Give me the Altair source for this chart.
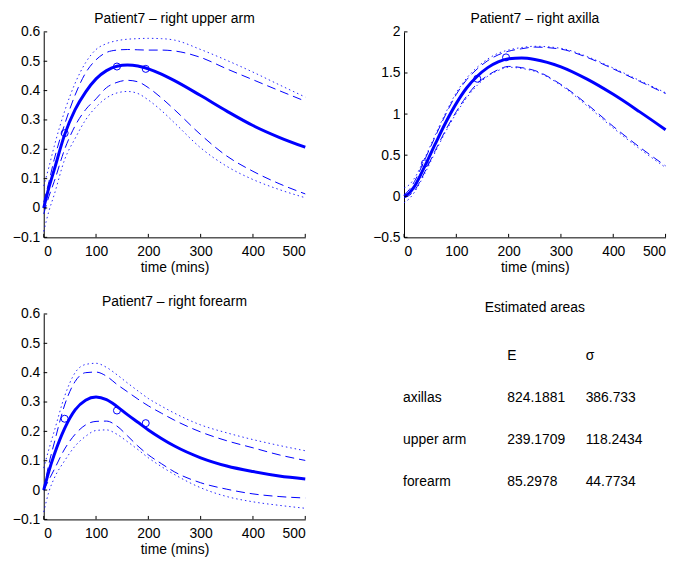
import altair as alt
import pandas as pd

BLUE = "#0000ff"
FONT = "Liberation Sans"
W, H = 263.5, 207

# common sampling times (mins)
T = [0, 10, 20, 40, 60, 80, 100, 120, 140, 160, 180, 200, 225, 250, 300, 350, 400, 450, 500]
x_ticks = [0, 100, 200, 300, 400, 500]

# ---- right upper arm ----
ua_title = "Patient7 \u2013 right upper arm"
ua_mean = [0, 0.07, 0.13, 0.25, 0.335, 0.395, 0.44, 0.468, 0.483, 0.487, 0.484, 0.474, 0.456, 0.434, 0.383, 0.33, 0.281, 0.241, 0.207]
ua_dash_hi = [0.02, 0.09, 0.165, 0.285, 0.385, 0.46, 0.505, 0.53, 0.538, 0.54, 0.539, 0.538, 0.538, 0.535, 0.513, 0.474, 0.437, 0.40, 0.364]
ua_dash_lo = [-0.02, 0.04, 0.09, 0.2, 0.28, 0.335, 0.372, 0.41, 0.428, 0.435, 0.43, 0.41, 0.375, 0.335, 0.25, 0.177, 0.125, 0.083, 0.048]
ua_dot_hi = [0.075, 0.14, 0.21, 0.33, 0.425, 0.495, 0.54, 0.56, 0.57, 0.575, 0.577, 0.578, 0.577, 0.572, 0.54, 0.503, 0.463, 0.42, 0.378]
ua_dot_lo = [-0.08, -0.01, 0.045, 0.165, 0.237, 0.3, 0.344, 0.375, 0.392, 0.397, 0.39, 0.368, 0.332, 0.29, 0.205, 0.142, 0.097, 0.063, 0.035]
ua_obs_t = [40, 140, 195]
ua_obs_v = [0.255, 0.482, 0.474]
ua_yticks = [-0.1, 0, 0.1, 0.2, 0.3, 0.4, 0.5, 0.6]

# ---- right axilla ----
ax_title = "Patient7 \u2013 right axilla"
ax_mean = [0, 0.04, 0.12, 0.37, 0.64, 0.9, 1.13, 1.32, 1.46, 1.565, 1.635, 1.672, 1.683, 1.665, 1.575, 1.425, 1.24, 1.03, 0.81]
ax_dash_hi = [0.02, 0.08, 0.18, 0.45, 0.73, 1.0, 1.24, 1.42, 1.55, 1.65, 1.72, 1.765, 1.795, 1.815, 1.79, 1.69, 1.55, 1.40, 1.25]
ax_dash_lo = [-0.02, 0.01, 0.07, 0.3, 0.56, 0.81, 1.03, 1.22, 1.37, 1.47, 1.54, 1.58, 1.565, 1.53, 1.36, 1.12, 0.85, 0.6, 0.37]
ax_dot_hi = [0.1, 0.14, 0.22, 0.47, 0.75, 1.02, 1.26, 1.44, 1.57, 1.67, 1.74, 1.78, 1.81, 1.825, 1.80, 1.70, 1.56, 1.41, 1.26]
ax_dot_lo = [-0.08, -0.03, 0.05, 0.28, 0.54, 0.79, 1.01, 1.2, 1.35, 1.46, 1.53, 1.57, 1.555, 1.52, 1.35, 1.10, 0.83, 0.58, 0.35]
ax_obs_t = [40, 140, 195]
ax_obs_v = [0.40, 1.43, 1.69]
ax_yticks = [-0.5, 0, 0.5, 1, 1.5, 2]

# ---- right forearm ----
fa_title = "Patient7 \u2013 right forearm"
fa_mean = [0, 0.065, 0.12, 0.21, 0.273, 0.306, 0.317, 0.308, 0.285, 0.257, 0.231, 0.205, 0.176, 0.15, 0.11, 0.082, 0.063, 0.048, 0.038]
fa_dash_hi = [0, 0.09, 0.16, 0.29, 0.37, 0.40, 0.402, 0.388, 0.36, 0.335, 0.31, 0.287, 0.262, 0.238, 0.198, 0.168, 0.144, 0.12, 0.101]
fa_dash_lo = [0, 0.035, 0.07, 0.14, 0.19, 0.222, 0.234, 0.235, 0.218, 0.185, 0.15, 0.12, 0.09, 0.062, 0.025, 0.003, -0.013, -0.022, -0.027]
fa_dot_hi = [0.075, 0.14, 0.2, 0.32, 0.4, 0.428, 0.432, 0.418, 0.393, 0.365, 0.338, 0.312, 0.286, 0.262, 0.222, 0.195, 0.172, 0.152, 0.134]
fa_dot_lo = [-0.075, -0.005, 0.04, 0.1, 0.15, 0.183, 0.203, 0.205, 0.19, 0.165, 0.138, 0.11, 0.08, 0.053, 0.008, -0.022, -0.04, -0.052, -0.062]
fa_obs_t = [40, 140, 195]
fa_obs_v = [0.243, 0.271, 0.228]
fa_yticks = [-0.1, 0, 0.1, 0.2, 0.3, 0.4, 0.5, 0.6]

# ---- estimated areas table ----
table_title = "Estimated areas"
regions = ["axillas", "upper arm", "forearm"]
E_vals = ["824.1881", "239.1709", "85.2978"]
sigma_vals = ["386.733", "118.2434", "44.7734"]
head_E = "E"
head_sigma = "\u03c3"


def make_panel(title, mean, dhi, dlo, phi, plo, obs_t, obs_v, yticks):
    rows = []
    for kind, vals in [("mean", mean), ("dash_hi", dhi), ("dash_lo", dlo),
                       ("dot_hi", phi), ("dot_lo", plo)]:
        for t, v in zip(T, vals):
            rows.append({"t": t, "v": v, "kind": kind})
    df = pd.DataFrame(rows)
    ydom = [yticks[0], yticks[-1]]
    x = alt.X("t:Q", scale=alt.Scale(domain=[0, 500], nice=False, zero=False),
              axis=alt.Axis(values=x_ticks, tickCount=len(x_ticks) + 2, title="time (mins)",
                            labelPadding=7.3, titlePadding=2, format="~r",
                            labelOverlap=False))
    y = alt.Y("v:Q", scale=alt.Scale(domain=ydom, nice=False, zero=False),
              axis=alt.Axis(values=yticks, tickCount=len(yticks) + 2, title=None,
                            labelPadding=4, format="~r", labelOverlap=False))
    base = alt.Chart(df)
    dotted = base.transform_filter(
        alt.FieldOneOfPredicate(field="kind", oneOf=["dot_hi", "dot_lo"])
    ).mark_line(color=BLUE, strokeWidth=1, strokeDash=[1.5, 3], interpolate="monotone",
                opacity=0.85).encode(x=x, y=y, detail="kind:N")
    dashed = base.transform_filter(
        alt.FieldOneOfPredicate(field="kind", oneOf=["dash_hi", "dash_lo"])
    ).mark_line(color=BLUE, strokeWidth=1, strokeDash=[9, 5], interpolate="monotone"
                ).encode(x="t:Q", y="v:Q", detail="kind:N")
    solid = base.transform_filter(alt.datum.kind == "mean").mark_line(
        color=BLUE, strokeWidth=3, interpolate="monotone").encode(x="t:Q", y="v:Q")
    obs = alt.Chart(pd.DataFrame({"t": obs_t, "v": obs_v})).mark_point(
        shape="circle", size=50, filled=False, color=BLUE, strokeWidth=1, opacity=1
    ).encode(x="t:Q", y="v:Q")
    xt = alt.Chart(pd.DataFrame({"t": x_ticks})).mark_rule(color="black", strokeWidth=1).encode(
        x="t:Q", y=alt.value(H), y2=alt.value(H - 3.5))
    yt = alt.Chart(pd.DataFrame({"v": yticks})).mark_rule(color="black", strokeWidth=1).encode(
        y="v:Q", x=alt.value(0), x2=alt.value(3.5))
    return alt.layer(dotted, dashed, solid, obs, xt, yt).properties(
        width=W, height=H, title=title)


p_ua = make_panel(ua_title, ua_mean, ua_dash_hi, ua_dash_lo, ua_dot_hi, ua_dot_lo,
                  ua_obs_t, ua_obs_v, ua_yticks)
p_ax = make_panel(ax_title, ax_mean, ax_dash_hi, ax_dash_lo, ax_dot_hi, ax_dot_lo,
                  ax_obs_t, ax_obs_v, ax_yticks)
p_fa = make_panel(fa_title, fa_mean, fa_dash_hi, fa_dash_lo, fa_dot_hi, fa_dot_lo,
                  fa_obs_t, fa_obs_v, fa_yticks)

row_keys = ["head"] + regions
tab = pd.DataFrame({
    "row": row_keys,
    "label": [""] + regions,
    "E": [head_E] + E_vals,
    "S": [head_sigma] + sigma_vals,
})
ty = alt.Y("row:N", scale=alt.Scale(type="point", domain=row_keys, range=[46.3, 173], padding=0),
           axis=None)
tbase = alt.Chart(tab).mark_text(align="left", baseline="alphabetic", font=FONT,
                                 fontSize=14, color="black")
t_label = tbase.encode(x=alt.value(-1), y=ty, text="label:N")
t_E = tbase.encode(x=alt.value(104), y=ty, text="E:N")
t_S = tbase.encode(x=alt.value(183), y=ty, text="S:N")
p_tab = alt.layer(t_label, t_E, t_S).properties(width=W, height=H, title=table_title)

chart = alt.concat(p_ua, p_ax, p_fa, p_tab, columns=2,
                   spacing={"row": 77.2, "column": 99}, bounds="flush").properties(
    padding={"left": 4, "top": 2, "right": 0, "bottom": 0}
).configure_view(stroke=None).configure_axis(
    grid=False, ticks=False, tickSize=0, domainColor="black", domainWidth=1,
    labelFont=FONT, labelFontSize=14, labelColor="black",
    titleFont=FONT, titleFontSize=14, titleFontWeight="normal", titleColor="black"
).configure_title(
    font=FONT, fontSize=14, fontWeight="normal", color="black",
    anchor="middle", frame="group", baseline="alphabetic", offset=-1.5
)

chart.save("out.html", embed_options={"renderer": "svg", "actions": False})
